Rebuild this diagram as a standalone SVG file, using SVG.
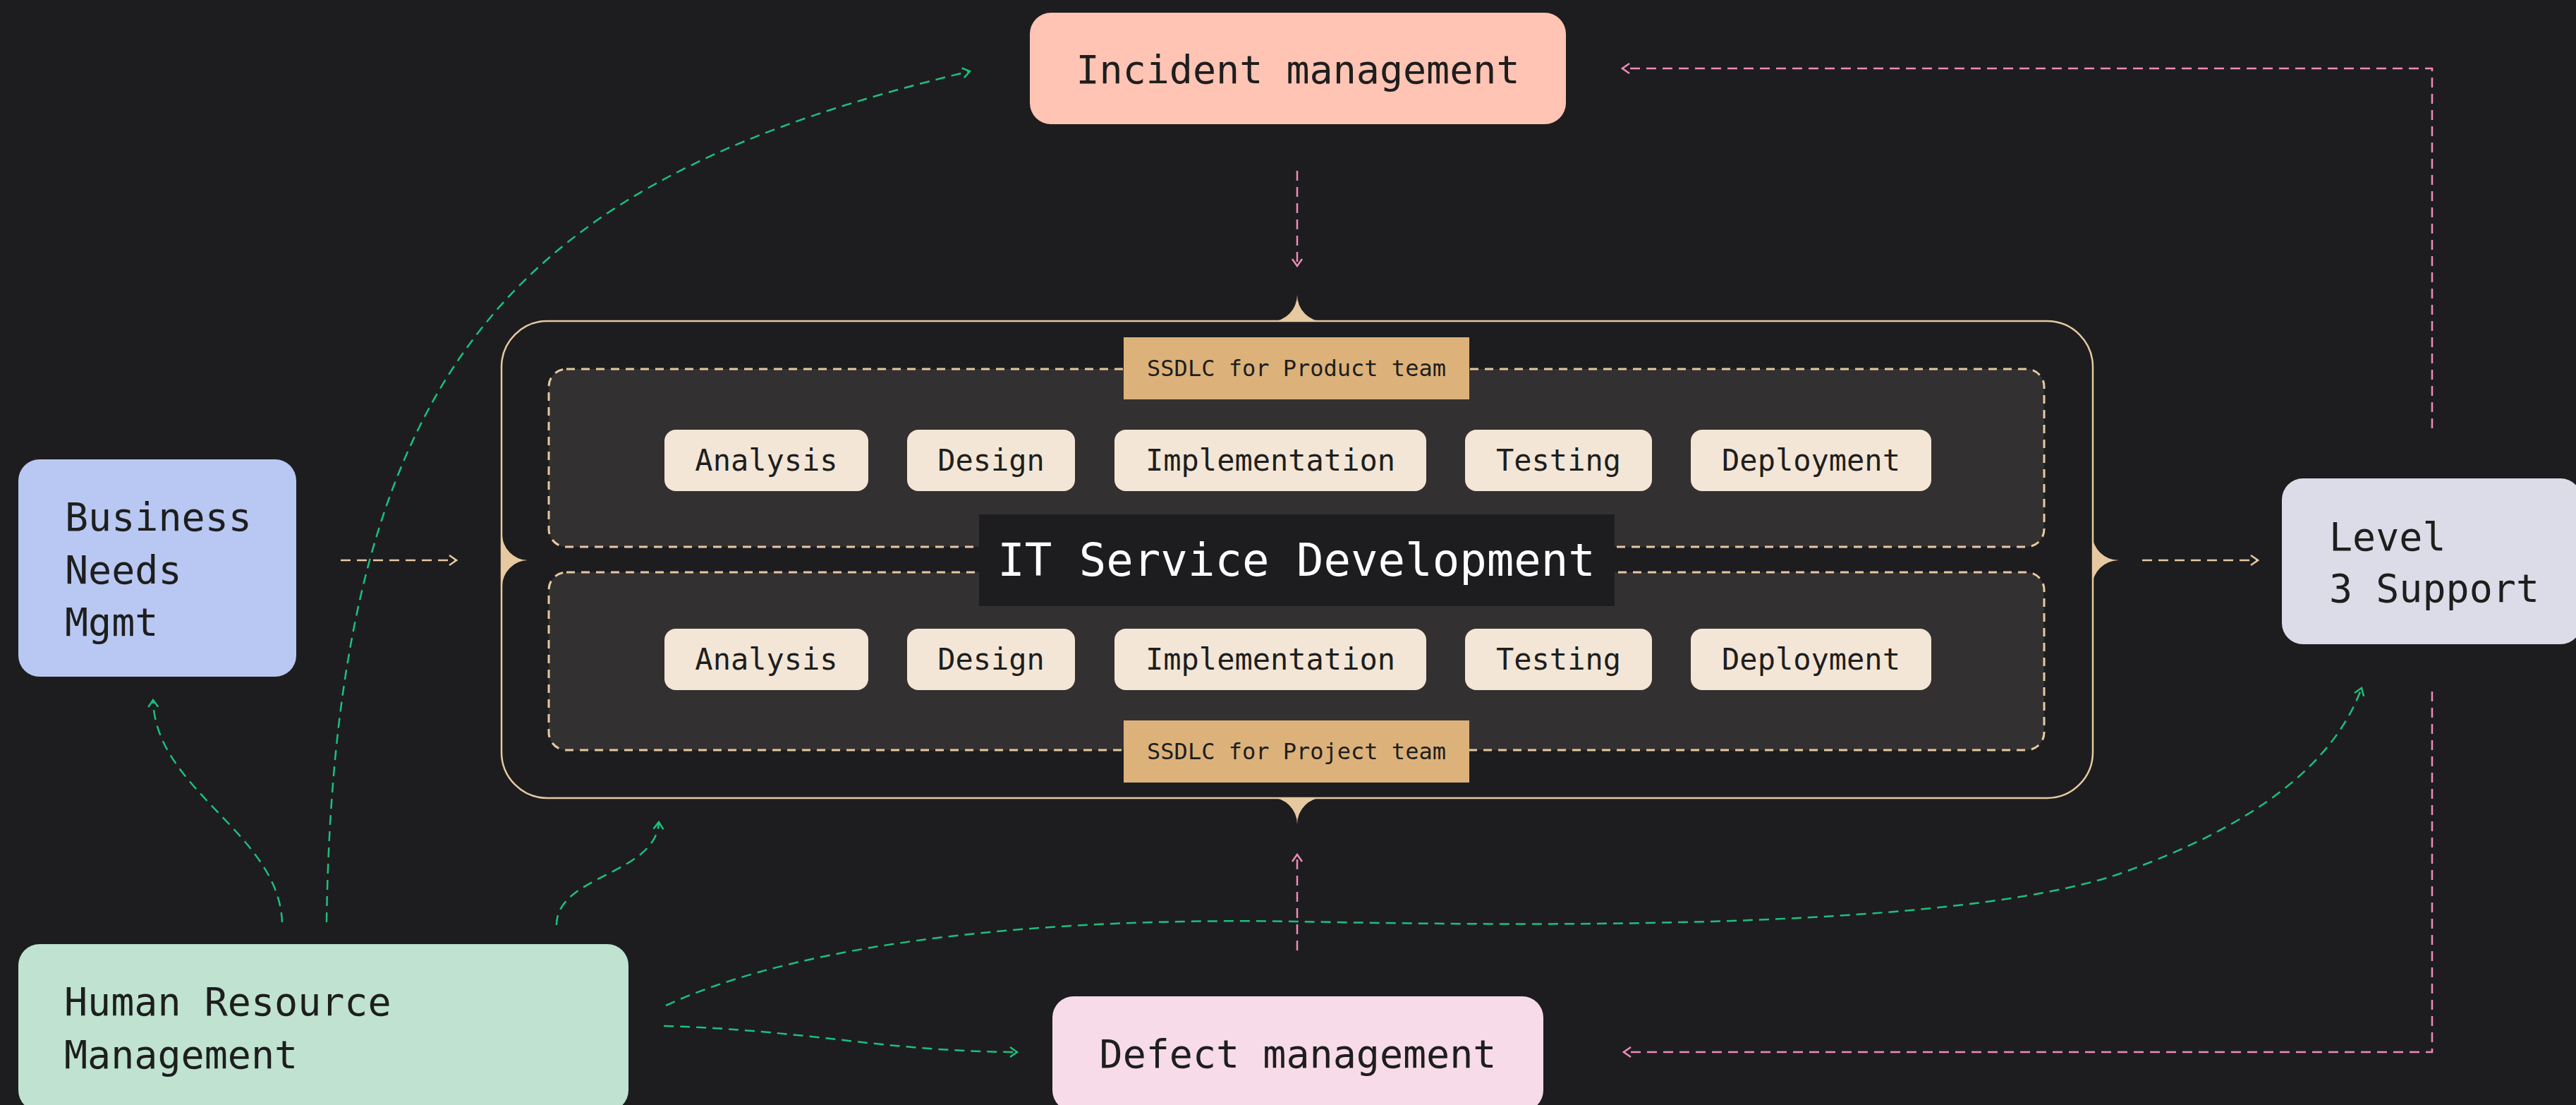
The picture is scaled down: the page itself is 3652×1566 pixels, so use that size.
<svg xmlns="http://www.w3.org/2000/svg" width="3652" height="1566" viewBox="0 0 3652 1566">
  <style>
    .txt { font-family: "DejaVu Sans Mono", "Liberation Mono", monospace; fill: #1e1e1e; }
    .node-lbl { font-size: 55px; }
    .step rect { fill: #f3e6d6; }
    .step text { font-family: "DejaVu Sans Mono", "Liberation Mono", monospace; font-size: 42px; fill: #1e1e1e; text-anchor: middle; }
    .panel { fill: #333031; stroke: #e6c9a0; stroke-width: 3; stroke-dasharray: 12 9; }
    .tag rect { fill: #dcb27a; }
    .tag text { font-family: "DejaVu Sans Mono", "Liberation Mono", monospace; font-size: 32px; fill: #1e1e1e; text-anchor: middle; }
    .spike { fill: #e6c9a0; }
    .link { fill: none; stroke-width: 2.5; stroke-dasharray: 14 9; }
    .pink { stroke: #ee8abb; }
    .green { stroke: #1cc07c; }
    .tan { stroke: #e6c9a0; }
  </style>
  <defs>
    <marker id="arr-pink" viewBox="0 0 14 18" markerWidth="14" markerHeight="18" refX="12" refY="9" orient="auto" markerUnits="userSpaceOnUse">
      <path d="M2,2 L12,9 L2,16" fill="none" stroke="#ee8abb" stroke-width="2.5"/>
    </marker>
    <marker id="arr-green" viewBox="0 0 14 18" markerWidth="14" markerHeight="18" refX="12" refY="9" orient="auto" markerUnits="userSpaceOnUse">
      <path d="M2,2 L12,9 L2,16" fill="none" stroke="#1cc07c" stroke-width="2.5"/>
    </marker>
    <marker id="arr-tan" viewBox="0 0 14 18" markerWidth="14" markerHeight="18" refX="12" refY="9" orient="auto" markerUnits="userSpaceOnUse">
      <path d="M2,2 L12,9 L2,16" fill="none" stroke="#e6c9a0" stroke-width="2.5"/>
    </marker>
  </defs>

  <rect x="0" y="0" width="3652" height="1566" fill="#1d1d1f"/>

  <!-- central container -->
  <g id="it-service-development">
    <rect x="711" y="455" width="2256" height="676" rx="65" fill="#1d1d1f" stroke="#e6c9a0" stroke-width="2.5"/>
    <!-- concave attachment nubs on the frame -->
    <path class="spike" d="M1801,456 A38,38 0 0 0 1839,418 A38,38 0 0 0 1877,456 Z"/>
    <path class="spike" d="M1801,1130 A38,38 0 0 1 1839,1168 A38,38 0 0 1 1877,1130 Z"/>
    <path class="spike" d="M712,757 A37,37 0 0 0 748,794 A37,37 0 0 0 712,831 Z"/>
    <path class="spike" d="M2966,757 A38,38 0 0 0 3004,794 A38,38 0 0 0 2966,831 Z"/>

    <rect class="panel" x="778" y="523" width="2120" height="252" rx="25"/>
    <rect class="panel" x="778" y="811" width="2120" height="252" rx="25"/>

    <g class="tag">
      <rect x="1593" y="478" width="490" height="88"/>
      <text x="1838" y="533">SSDLC for Product team</text>
    </g>
    <g class="tag">
      <rect x="1593" y="1021" width="490" height="88"/>
      <text x="1838" y="1076">SSDLC for Project team</text>
    </g>

    <!-- product team steps -->
    <g class="step"><rect x="942" y="609" width="289" height="87" rx="16"/><text x="1086.5" y="667">Analysis</text></g>
    <g class="step"><rect x="1286" y="609" width="238" height="87" rx="16"/><text x="1405" y="667">Design</text></g>
    <g class="step"><rect x="1580" y="609" width="442" height="87" rx="16"/><text x="1801" y="667">Implementation</text></g>
    <g class="step"><rect x="2077" y="609" width="265" height="87" rx="16"/><text x="2209.5" y="667">Testing</text></g>
    <g class="step"><rect x="2397" y="609" width="341" height="87" rx="16"/><text x="2567.5" y="667">Deployment</text></g>

    <!-- project team steps -->
    <g class="step"><rect x="942" y="891" width="289" height="87" rx="16"/><text x="1086.5" y="949">Analysis</text></g>
    <g class="step"><rect x="1286" y="891" width="238" height="87" rx="16"/><text x="1405" y="949">Design</text></g>
    <g class="step"><rect x="1580" y="891" width="442" height="87" rx="16"/><text x="1801" y="949">Implementation</text></g>
    <g class="step"><rect x="2077" y="891" width="265" height="87" rx="16"/><text x="2209.5" y="949">Testing</text></g>
    <g class="step"><rect x="2397" y="891" width="341" height="87" rx="16"/><text x="2567.5" y="949">Deployment</text></g>

    <rect x="1388" y="729" width="901" height="130" fill="#1d1d1f"/>
    <text x="1838" y="816" font-family="DejaVu Sans Mono, Liberation Mono, monospace" font-size="64" fill="#ffffff" text-anchor="middle">IT Service Development</text>
  </g>

  <g id="incident-management">
    <rect x="1460" y="18" width="760" height="158" rx="30" fill="#ffc4b3"/>
    <text class="txt node-lbl" x="1840" y="118" font-size="56" text-anchor="middle">Incident management</text>
  </g>

  <g id="business-needs-mgmt">
    <rect x="26" y="651" width="394" height="308" rx="30" fill="#b8c8f2"/>
    <text class="txt node-lbl" x="92" y="752">Business</text>
    <text class="txt node-lbl" x="92" y="827">Needs</text>
    <text class="txt node-lbl" x="92" y="901">Mgmt</text>
  </g>

  <g id="level-3-support">
    <rect x="3235" y="678" width="425" height="235" rx="30" fill="#dcdce8"/>
    <text class="txt node-lbl" x="3302" y="780">Level</text>
    <text class="txt node-lbl" x="3302" y="853">3 Support</text>
  </g>

  <g id="human-resource-management">
    <rect x="26" y="1338" width="865" height="237" rx="30" fill="#bfe3d0"/>
    <text class="txt node-lbl" x="91" y="1439">Human Resource</text>
    <text class="txt node-lbl" x="91" y="1514">Management</text>
  </g>

  <g id="defect-management">
    <rect x="1492" y="1412" width="696" height="163" rx="30" fill="#f8dbe8"/>
    <text class="txt node-lbl" x="1840" y="1513" text-anchor="middle">Defect management</text>
  </g>

  <g id="connectors">
    <path class="link pink" d="M1839,242 L1839,377" marker-end="url(#arr-pink)"/>
    <path class="link pink" d="M1839,1347 L1839,1211" marker-end="url(#arr-pink)"/>
    <path class="link pink" d="M3448,607 L3448,97 L2300,97" marker-end="url(#arr-pink)"/>
    <path class="link pink" d="M3448,980 L3448,1491 L2302,1491" marker-end="url(#arr-pink)"/>

    <path class="link tan" d="M483,794 L647,794" marker-end="url(#arr-tan)"/>
    <path class="link tan" d="M3037,794 L3201,794" marker-end="url(#arr-tan)"/>

    <path class="link green" d="M463,1307 C475,500 750,250 1375,101" marker-end="url(#arr-green)"/>
    <path class="link green" d="M400,1307 C395,1180 220,1120 217,992" marker-end="url(#arr-green)"/>
    <path class="link green" d="M789,1311 C789,1240 930,1240 934,1165" marker-end="url(#arr-green)"/>
    <path class="link green" d="M944,1425 C1150,1330 1500,1300 1840,1306 C2250,1314 2770,1314 3000,1240 C3200,1170 3310,1080 3348,975" marker-end="url(#arr-green)"/>
    <path class="link green" d="M941,1454 C1150,1460 1250,1490 1442,1491" marker-end="url(#arr-green)"/>
  </g>
</svg>
